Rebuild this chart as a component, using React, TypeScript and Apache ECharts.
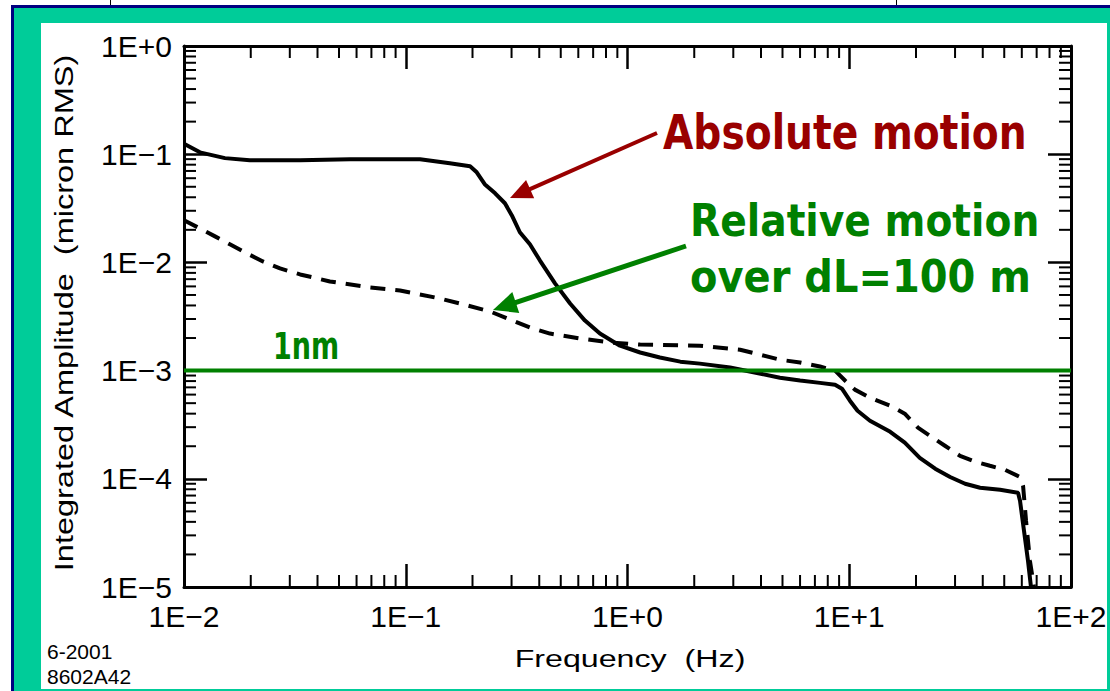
import React, { useEffect, useRef } from 'react';
import * as echarts from 'echarts';

// ---- axis ranges and tick labels ----
const FREQ_MIN = 0.01;
const FREQ_MAX = 100;
const AMP_MIN = 1e-5;
const AMP_MAX = 1;
const X_TICK_EXPONENTS = [-2, -1, 0, 1, 2];
const X_TICK_LABELS = ['1E\u22122', '1E\u22121', '1E+0', '1E+1', '1E+2'];
const Y_TICK_EXPONENTS = [-5, -4, -3, -2, -1, 0];
const Y_TICK_LABELS = ['1E\u22125', '1E\u22124', '1E\u22123', '1E\u22122', '1E\u22121', '1E+0'];
const X_MINOR_DECADES = [-2, -1, 0, 1];
const Y_MINOR_DECADES = [-5, -4, -3, -2, -1];
const MINOR_MULTIPLIERS = [2, 3, 4, 5, 6, 7, 8, 9];

// ---- series: absolute motion (solid) ----
const ABS_FREQ = [
  0.01, 0.0118, 0.0153, 0.0198, 0.0334, 0.0561, 0.116, 0.158, 0.195, 0.209, 0.227, 0.253,
  0.28, 0.301, 0.327, 0.363, 0.403, 0.471, 0.551, 0.643, 0.751, 0.925, 1.14, 1.4, 1.73,
  2.12, 2.9, 4.87, 6.0, 7.38, 8.63, 9.27, 10.07, 10.9, 12.4, 15.3, 17.8, 20.8, 24.4, 28.5,
  33.3, 38.9, 47.9, 57.7, 58.9, 61.4, 64.0, 66.0,
];
const ABS_AMP = [
  0.125, 0.104, 0.092, 0.088, 0.088, 0.0899, 0.09, 0.0826, 0.0774, 0.068, 0.0528, 0.0435,
  0.0352, 0.0272, 0.019, 0.0147, 0.0104, 0.0064, 0.00417, 0.0029, 0.0022, 0.0017, 0.00147,
  0.00132, 0.00121, 0.00116, 0.00107, 0.00086, 0.00081, 0.00077, 0.00074, 0.00068, 0.000527,
  0.000426, 0.000344, 0.000272, 0.000216, 0.000156, 0.000124, 0.000104, 0.00009, 0.0000826,
  0.0000791, 0.0000742, 0.0000626, 0.000033, 0.0000174, 0.00001,
];

// ---- series: relative motion over dL=100 m (dashed) ----
const REL_FREQ = [
  0.01, 0.0118, 0.0138, 0.0161, 0.0188, 0.0227, 0.0271, 0.0334, 0.0455, 0.069, 0.0942,
  0.1427, 0.1756, 0.24, 0.295, 0.363, 0.447, 0.611, 0.834, 1.14, 2.12, 3.22, 4.87, 6.0,
  7.38, 8.63, 9.57, 10.6, 12.4, 15.3, 17.8, 20.4, 23.1, 27.0, 31.6, 36.9, 43.1, 50.4, 58.9,
  60.8, 62.7, 65.3, 68.1,
];
const REL_AMP = [
  0.0245, 0.0206, 0.0174, 0.0147, 0.0124, 0.0102, 0.0088, 0.00774, 0.00667, 0.00587, 0.0055,
  0.00464, 0.00417, 0.00352, 0.00297, 0.0025, 0.0022, 0.00198, 0.00182, 0.00174, 0.0017,
  0.00156, 0.00126, 0.00119, 0.00109, 0.001, 0.00081, 0.000667, 0.000562, 0.000474, 0.0004,
  0.000297, 0.00025, 0.000202, 0.000163, 0.000144, 0.000132, 0.000121, 0.000104, 0.000086,
  0.000041, 0.0000174, 0.00001,
];

// ---- reference level ----
const NM_LEVEL = 1e-3;
const NM_LABEL = '1nm';

const SANS = '"Liberation Sans", Arial, Helvetica, sans-serif';
const ANNOT = '"DejaVu Sans", "Noto Sans", sans-serif';
const RED = '#990000';
const GREEN = '#008000';
const MINOR_LEN = 12;

const fmt = (exps: number[], labels: string[]) => (v: number) => {
  const e = Math.round(Math.log10(v));
  const i = exps.indexOf(e);
  return i >= 0 ? labels[i] : '';
};

function buildOption(): any {
  const axisBase = {
    type: 'log',
    logBase: 10,
    gridIndex: 0,
    axisLine: { show: true, onZero: false, lineStyle: { color: '#000', width: 3 } },
    axisTick: { show: true, inside: true, length: 23, lineStyle: { color: '#000', width: 2.5 } },
    splitLine: { show: false },
    minorTick: { show: false },
    minorSplitLine: { show: false },
  };
  const labelBase = {
    show: true,
    color: '#000',
    fontFamily: SANS,
    fontSize: 30,
    hideOverlap: false,
    showMinLabel: true,
    showMaxLabel: true,
  };

  const xMinor: number[][] = [];
  X_MINOR_DECADES.forEach((d) => MINOR_MULTIPLIERS.forEach((m) => xMinor.push([m * Math.pow(10, d), NM_LEVEL])));
  const yMinor: number[][] = [];
  Y_MINOR_DECADES.forEach((d) => MINOR_MULTIPLIERS.forEach((m) => yMinor.push([1, m * Math.pow(10, d)])));

  const tickStyle = { stroke: '#000', lineWidth: 2 };

  const arrow = (tail: number[], tip: number[], headLen: number, halfW: number, width: number, color: string) => {
    const dx = tip[0] - tail[0];
    const dy = tip[1] - tail[1];
    const len = Math.sqrt(dx * dx + dy * dy);
    const ux = dx / len;
    const uy = dy / len;
    const bx = tip[0] - ux * headLen;
    const by = tip[1] - uy * headLen;
    const nx = -uy;
    const ny = ux;
    return [
      { type: 'line', z: 50, shape: { x1: tail[0], y1: tail[1], x2: bx + ux * 2, y2: by + uy * 2 }, style: { stroke: color, lineWidth: width } },
      {
        type: 'polygon',
        z: 51,
        shape: { points: [[tip[0], tip[1]], [bx + nx * halfW, by + ny * halfW], [bx - nx * halfW, by - ny * halfW]] },
        style: { fill: color },
      },
    ];
  };

  return {
    animation: false,
    backgroundColor: 'transparent',
    grid: { left: 184, right: 39, top: 46, bottom: 104, containLabel: false, outerBoundsMode: 'none' },
    xAxis: [
      {
        ...axisBase,
        position: 'bottom',
        min: FREQ_MIN,
        max: FREQ_MAX,
        axisLabel: { ...labelBase, margin: 14, formatter: fmt(X_TICK_EXPONENTS, X_TICK_LABELS) },
      },
      { ...axisBase, position: 'top', min: FREQ_MIN, max: FREQ_MAX, axisLabel: { show: false } },
    ],
    yAxis: [
      {
        ...axisBase,
        position: 'left',
        min: AMP_MIN,
        max: AMP_MAX,
        axisLabel: { ...labelBase, margin: 12, formatter: fmt(Y_TICK_EXPONENTS, Y_TICK_LABELS) },
      },
      { ...axisBase, position: 'right', min: AMP_MIN, max: AMP_MAX, axisLabel: { show: false } },
    ],
    series: [
      {
        name: 'Absolute motion',
        type: 'line',
        xAxisIndex: 0,
        yAxisIndex: 0,
        data: ABS_FREQ.map((f, i) => [f, ABS_AMP[i]]),
        symbol: 'none',
        lineStyle: { color: '#000', width: 4 },
        z: 3,
      },
      {
        name: 'Relative motion over dL=100 m',
        type: 'line',
        xAxisIndex: 0,
        yAxisIndex: 0,
        data: REL_FREQ.map((f, i) => [f, REL_AMP[i]]),
        symbol: 'none',
        lineStyle: { color: '#000', width: 4, type: [15, 10] },
        z: 3,
      },
      {
        name: NM_LABEL,
        type: 'line',
        xAxisIndex: 0,
        yAxisIndex: 0,
        data: [
          [FREQ_MIN, NM_LEVEL],
          [FREQ_MAX, NM_LEVEL],
        ],
        symbol: 'none',
        lineStyle: { color: GREEN, width: 4 },
        z: 4,
      },
      {
        type: 'custom',
        xAxisIndex: 0,
        yAxisIndex: 0,
        silent: true,
        clip: false,
        encode: { x: 0, y: 1 },
        data: xMinor,
        renderItem: (_p: any, api: any) => {
          const v = api.value(0);
          const b = api.coord([v, AMP_MIN]);
          const t = api.coord([v, AMP_MAX]);
          return {
            type: 'group',
            children: [
              { type: 'line', shape: { x1: b[0], y1: b[1], x2: b[0], y2: b[1] - MINOR_LEN }, style: tickStyle },
              { type: 'line', shape: { x1: t[0], y1: t[1], x2: t[0], y2: t[1] + MINOR_LEN }, style: tickStyle },
            ],
          };
        },
        z: 5,
      },
      {
        type: 'custom',
        xAxisIndex: 0,
        yAxisIndex: 0,
        silent: true,
        clip: false,
        encode: { x: 0, y: 1 },
        data: yMinor,
        renderItem: (_p: any, api: any) => {
          const v = api.value(1);
          const l = api.coord([FREQ_MIN, v]);
          const r = api.coord([FREQ_MAX, v]);
          return {
            type: 'group',
            children: [
              { type: 'line', shape: { x1: l[0], y1: l[1], x2: l[0] + MINOR_LEN, y2: l[1] }, style: tickStyle },
              { type: 'line', shape: { x1: r[0], y1: r[1], x2: r[0] - MINOR_LEN, y2: r[1] }, style: tickStyle },
            ],
          };
        },
        z: 5,
      },
    ],
    graphic: {
      elements: [
        {
          type: 'text',
          x: 64,
          y: 313,
          rotation: Math.PI / 2,
          scaleX: 1.3,
          z: 20,
          style: { text: 'Integrated Amplitude  (micron RMS)', fontSize: 25, fontFamily: SANS, fill: '#000', align: 'center', verticalAlign: 'middle' },
        },
        {
          type: 'text',
          x: 630,
          y: 659,
          scaleX: 1.4,
          z: 20,
          style: { text: 'Frequency  (Hz)', fontSize: 23, fontFamily: SANS, fill: '#000', align: 'center', verticalAlign: 'middle' },
        },
        {
          type: 'text',
          x: 47,
          y: 651,
          z: 20,
          style: { text: '6-2001', fontSize: 21, fontFamily: SANS, fill: '#000', align: 'left', verticalAlign: 'middle' },
        },
        {
          type: 'text',
          x: 47,
          y: 676,
          z: 20,
          style: { text: '8602A42', fontSize: 21, fontFamily: SANS, fill: '#000', align: 'left', verticalAlign: 'middle' },
        },
        {
          type: 'text',
          x: 663,
          y: 132,
          scaleX: 0.98,
          scaleY: 1.2,
          z: 20,
          style: { text: 'Absolute motion', fontSize: 40, fontWeight: 'bold', fontFamily: ANNOT, fill: RED, align: 'left', verticalAlign: 'middle' },
        },
        {
          type: 'text',
          x: 690,
          y: 221,
          scaleX: 0.98,
          scaleY: 1.12,
          z: 20,
          style: { text: 'Relative motion', fontSize: 40, fontWeight: 'bold', fontFamily: ANNOT, fill: GREEN, align: 'left', verticalAlign: 'middle' },
        },
        {
          type: 'text',
          x: 690,
          y: 277,
          scaleX: 1.0,
          scaleY: 1.12,
          z: 20,
          style: { text: 'over dL=100 m', fontSize: 40, fontWeight: 'bold', fontFamily: ANNOT, fill: GREEN, align: 'left', verticalAlign: 'middle' },
        },
        {
          type: 'text',
          x: 273,
          y: 346,
          scaleX: 0.9,
          scaleY: 1.25,
          z: 20,
          style: { text: NM_LABEL, fontSize: 30, fontWeight: 'bold', fontFamily: ANNOT, fill: GREEN, align: 'left', verticalAlign: 'middle' },
        },
        ...arrow([657, 133], [510, 198], 22, 10, 4, RED),
        ...arrow([686, 246], [493, 310], 24, 11, 5, GREEN),
      ],
    },
  };
}

export default function App() {
  const ref = useRef<HTMLDivElement>(null);
  useEffect(() => {
    if (!ref.current) return;
    const chart = echarts.init(ref.current, null, { renderer: 'svg' });
    chart.setOption(buildOption());
    return () => chart.dispose();
  }, []);
  const box = (left: number, top: number, width: number, height: number, bg: string) => (
    <div style={{ position: 'absolute', left, top, width, height, background: bg }} />
  );
  return (
    <div style={{ position: 'fixed', left: 0, top: 0, width: 1110, height: 691, background: '#fff', overflow: 'hidden' }}>
      {box(110, 0, 1, 6, '#000')}
      {box(896, 0, 1, 6, '#000')}
      {box(11, 5, 1099, 3, '#000080')}
      {box(11, 5, 3, 686, '#000080')}
      {box(14, 8, 1096, 683, '#00CC99')}
      {box(41, 23, 1066, 666, '#fff')}
      <div ref={ref} style={{ position: 'absolute', left: 0, top: 0, width: 1110, height: 691 }} />
    </div>
  );
}
